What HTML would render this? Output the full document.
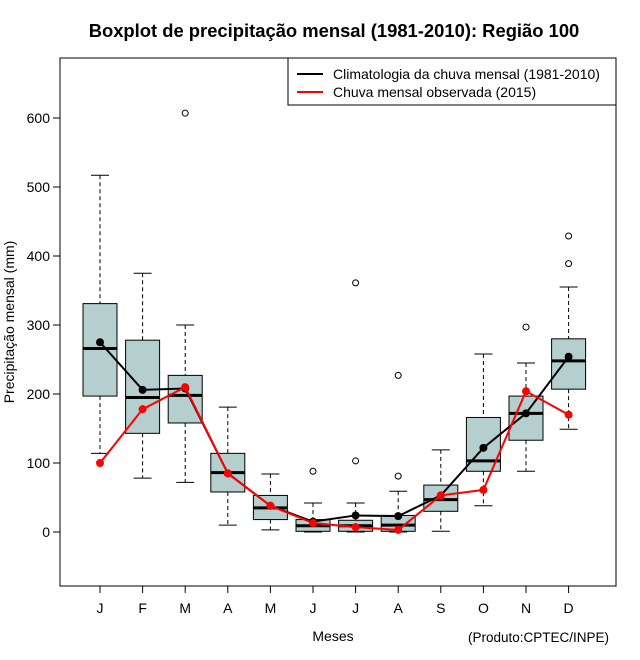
<!DOCTYPE html>
<html><head><meta charset="utf-8"><style>
body{margin:0;background:#fff;}
svg{display:block;font-family:"Liberation Sans",sans-serif;}
</style></head><body>
<svg id="chart" width="640" height="660" viewBox="0 0 640 660">
<rect width="640" height="660" fill="#fff"/>
<text x="334" y="37" text-anchor="middle" font-size="18.4" font-weight="bold">Boxplot de precipitação mensal (1981-2010): Região 100</text>
<rect x="60" y="58" width="556" height="528" fill="none" stroke="#000" stroke-width="1"/>
<g id="yaxis"></g>
<g id="xaxis"></g>
<g id="boxes"></g>
<g id="lines"></g>
<text transform="translate(14,322) rotate(-90)" text-anchor="middle" font-size="14">Precipitação mensal (mm)</text>
<text x="333" y="641" text-anchor="middle" font-size="14">Meses</text>
<text x="609" y="642" text-anchor="end" font-size="13.5">(Produto:CPTEC/INPE)</text>
<g>
<rect x="288" y="58" width="328" height="47" fill="#fff" stroke="#000"/>
<line x1="297" y1="74" x2="323" y2="74" stroke="#000" stroke-width="2"/>
<text x="333" y="79" font-size="14">Climatologia da chuva mensal (1981-2010)</text>
<line x1="297" y1="92" x2="323" y2="92" stroke="#f00" stroke-width="2"/>
<text x="333" y="97" font-size="14">Chuva mensal observada (2015)</text>
</g>
</svg>
<script>
const months=["J","F","M","A","M","J","J","A","S","O","N","D"];
const whiskerLow=[114,78,72,10,3,0,0,0,1,38,88,149];
const q1=[197,143,158,58,18,1,1,1,30,88,133,207];
const medians=[266,195,198,86,35,9,9,10,47,103,172,248];
const q3=[331,278,227,114,53,18,17,24,68,166,197,280];
const whiskerHigh=[517,375,300,181,84,42,42,59,119,258,245,355];
const outliers=[[],[],[607],[],[],[88],[103,361],[81,227],[],[],[297],[389,429]];
const climatology=[275,206,208,85,38,15,24,23,53,122,172,254];
const observed2015=[100,178,210,85,38,13,7,3,53,61,204,170];
const yTicks=[0,100,200,300,400,500,600];

const NS="http://www.w3.org/2000/svg";
const yScale=v=>532-v*0.69;
const xScale=i=>100+i*42.6;
function mk(tag,attrs,parent){const e=document.createElementNS(NS,tag);for(const k in attrs)e.setAttribute(k,attrs[k]);parent.appendChild(e);return e;}
const yax=document.getElementById('yaxis'),xax=document.getElementById('xaxis'),bx=document.getElementById('boxes'),ln=document.getElementById('lines');
yTicks.forEach(t=>{
  const y=yScale(t);
  const l=mk('line',{x1:53,x2:60,y1:y,y2:y,stroke:'#000'},yax);
  
  
  const tx=mk('text',{x:50,y:y+5,'text-anchor':'end','font-size':14},yax);
  
  
  tx.textContent=t;
});
months.forEach((m,i)=>{
  const x=xScale(i);
  const l=mk('line',{x1:x,x2:x,y1:586,y2:593,stroke:'#000'},xax);
  
  
  const tx=mk('text',{x:x,y:613,'text-anchor':'middle','font-size':14},xax);
  
  
  tx.textContent=m;
  const g=mk('g',{},bx);
  
  
  const hw=17,cw=9;
  mk('line',{x1:x,x2:x,y1:yScale(whiskerHigh[i]),y2:yScale(q3[i]),stroke:'#000','stroke-dasharray':'4,3'},g);
  mk('line',{x1:x,x2:x,y1:yScale(q1[i]),y2:yScale(whiskerLow[i]),stroke:'#000','stroke-dasharray':'4,3'},g);
  mk('line',{x1:x-cw,x2:x+cw,y1:yScale(whiskerHigh[i]),y2:yScale(whiskerHigh[i]),stroke:'#000'},g);
  mk('line',{x1:x-cw,x2:x+cw,y1:yScale(whiskerLow[i]),y2:yScale(whiskerLow[i]),stroke:'#000'},g);
  mk('rect',{x:x-hw,y:yScale(q3[i]),width:2*hw,height:yScale(q1[i])-yScale(q3[i]),fill:'#b5cfcf',stroke:'#000'},g);
  mk('line',{x1:x-hw,x2:x+hw,y1:yScale(medians[i]),y2:yScale(medians[i]),stroke:'#000','stroke-width':3},g);
  outliers[i].forEach(o=>{
    const c=mk('circle',{cx:x,cy:yScale(o),r:3,fill:'none',stroke:'#000'},g);
    
    
  });
});
function series(vals,color,name){
  const p=mk('polyline',{points:vals.map((v,i)=>xScale(i)+','+yScale(v)).join(' '),fill:'none',stroke:color,'stroke-width':2},ln);
  
  
  vals.forEach((v,i)=>{
    const c=mk('circle',{cx:xScale(i),cy:yScale(v),r:4,fill:color},ln);
    
    
  });
}
series(climatology,'#000','climatology');
series(observed2015,'#f00','observed-2015');
</script>
</body></html>
